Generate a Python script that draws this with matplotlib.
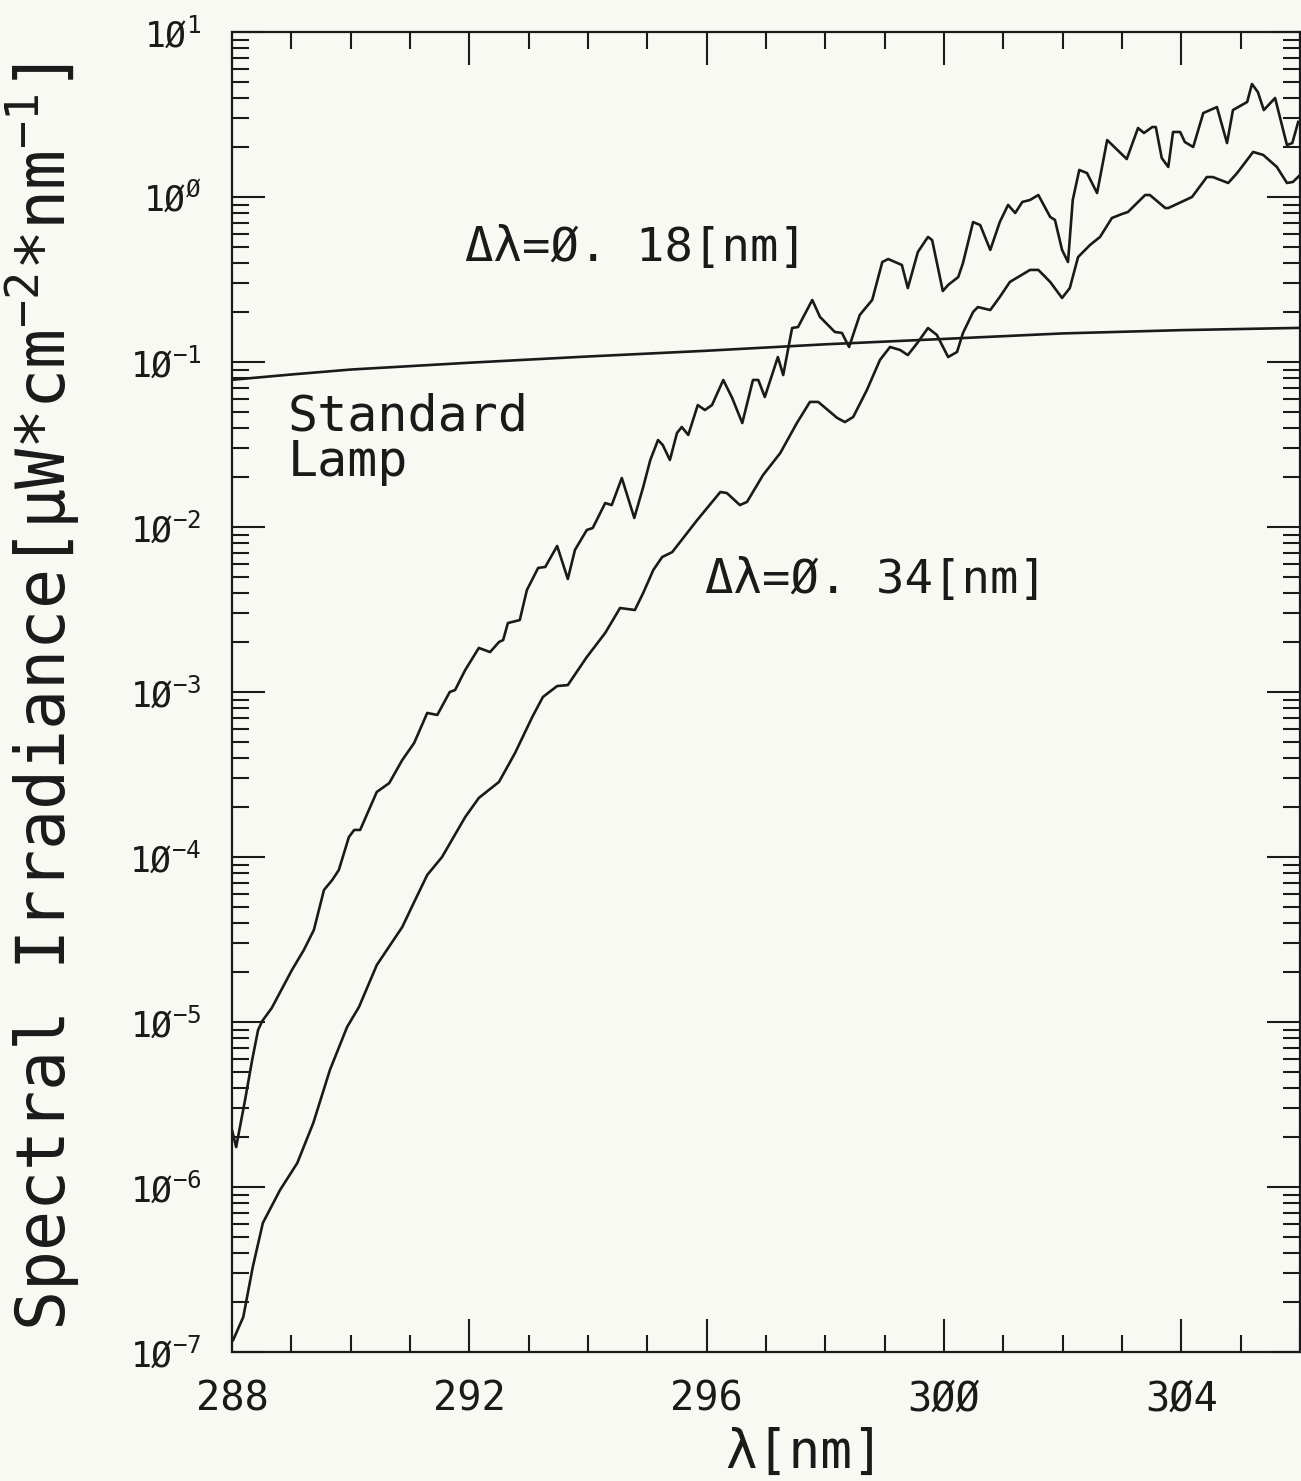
import numpy as np
import matplotlib
matplotlib.use('Agg')
import matplotlib.pyplot as plt
from matplotlib.ticker import MultipleLocator, LogLocator, NullFormatter

# Spectral irradiance (log10 of uW cm^-2 nm^-1)
wl_018 = [288.00, 288.07, 288.22, 288.34, 288.44, 288.51, 288.67, 289.01, 289.21, 289.38,
          289.55, 289.69, 289.80, 289.97, 290.06, 290.16, 290.44, 290.65, 290.87, 291.07,
          291.29, 291.46, 291.67, 291.76, 291.93, 292.16, 292.35, 292.50, 292.57, 292.65,
          292.85, 292.97, 293.16, 293.28, 293.48, 293.66, 293.78, 293.98, 294.08, 294.29,
          294.40, 294.57, 294.78, 294.93, 295.05, 295.18, 295.26, 295.38, 295.50, 295.58,
          295.69, 295.85, 295.97, 296.09, 296.28, 296.43, 296.60, 296.78, 296.87, 296.98,
          297.20, 297.29, 297.44, 297.54, 297.78, 297.91, 298.16, 298.28, 298.40, 298.58,
          298.79, 298.96, 299.06, 299.29, 299.39, 299.56, 299.73, 299.80, 299.98, 300.07,
          300.24, 300.32, 300.49, 300.61, 300.78, 300.94, 301.08, 301.20, 301.32, 301.45,
          301.59, 301.79, 301.87, 301.99, 302.09, 302.17, 302.28, 302.41, 302.58, 302.75,
          303.08, 303.27, 303.37, 303.51, 303.57, 303.67, 303.78, 303.86, 303.98, 304.06,
          304.20, 304.37, 304.60, 304.77, 304.87, 305.11, 305.19, 305.29, 305.39, 305.58,
          305.78, 305.87, 305.97]
log_irr_018 = [-5.655, -5.758, -5.473, -5.230, -5.048, -4.994, -4.915, -4.685, -4.564, -4.442,
               -4.200, -4.139, -4.079, -3.879, -3.836, -3.836, -3.606, -3.552, -3.412, -3.309,
               -3.127, -3.139, -3.000, -2.988, -2.867, -2.733, -2.758, -2.697, -2.685, -2.582,
               -2.564, -2.382, -2.248, -2.242, -2.115, -2.315, -2.139, -2.018, -2.006, -1.855,
               -1.867, -1.703, -1.945, -1.758, -1.594, -1.473, -1.503, -1.594, -1.430, -1.394,
               -1.442, -1.261, -1.291, -1.261, -1.109, -1.218, -1.370, -1.109, -1.109, -1.212,
               -0.970, -1.079, -0.794, -0.788, -0.624, -0.727, -0.818, -0.824, -0.909, -0.715,
               -0.624, -0.394, -0.376, -0.412, -0.552, -0.333, -0.242, -0.261, -0.570, -0.533,
               -0.485, -0.400, -0.152, -0.170, -0.321, -0.152, -0.048, -0.097, -0.030, -0.018,
               0.012, -0.121, -0.139, -0.321, -0.394, -0.018, 0.164, 0.145, 0.024, 0.345,
               0.230, 0.418, 0.388, 0.424, 0.424, 0.236, 0.182, 0.394, 0.394, 0.333,
               0.303, 0.509, 0.545, 0.327, 0.527, 0.576, 0.685, 0.636, 0.527, 0.600,
               0.315, 0.327, 0.455]

wl_034 = [288.02, 288.19, 288.35, 288.52, 288.81, 289.10, 289.37, 289.65, 289.94, 290.14,
          290.44, 290.87, 291.07, 291.29, 291.54, 291.93, 292.16, 292.50, 292.77, 293.06,
          293.24, 293.48, 293.66, 293.98, 294.29, 294.54, 294.79, 294.93, 295.10, 295.25,
          295.42, 295.84, 296.23, 296.34, 296.56, 296.68, 296.95, 297.24, 297.52, 297.74,
          297.88, 298.20, 298.33, 298.47, 298.70, 298.92, 299.09, 299.26, 299.39, 299.55,
          299.73, 299.88, 300.07, 300.22, 300.32, 300.49, 300.57, 300.78, 300.94, 301.11,
          301.45, 301.59, 301.79, 301.99, 302.12, 302.26, 302.46, 302.63, 302.83, 303.00,
          303.10, 303.39, 303.47, 303.73, 303.78, 304.18, 304.43, 304.53, 304.79, 304.94,
          305.21, 305.38, 305.61, 305.78, 305.88, 306.00]
log_irr_034 = [-6.927, -6.788, -6.485, -6.218, -6.018, -5.855, -5.612, -5.291, -5.030, -4.909,
               -4.655, -4.424, -4.273, -4.109, -4.000, -3.758, -3.642, -3.545, -3.370, -3.152,
               -3.030, -2.964, -2.958, -2.788, -2.642, -2.491, -2.503, -2.400, -2.261, -2.182,
               -2.152, -1.958, -1.788, -1.794, -1.867, -1.848, -1.685, -1.552, -1.370, -1.242,
               -1.242, -1.339, -1.364, -1.333, -1.170, -0.988, -0.909, -0.927, -0.958, -0.885,
               -0.794, -0.836, -0.970, -0.939, -0.824, -0.697, -0.667, -0.685, -0.606, -0.515,
               -0.442, -0.442, -0.515, -0.612, -0.552, -0.364, -0.291, -0.242, -0.127, -0.103,
               -0.091, 0.012, 0.012, -0.067, -0.067, 0.000, 0.121, 0.121, 0.085, 0.145,
               0.273, 0.255, 0.182, 0.085, 0.091, 0.133]

wl_lamp = [288, 289, 290, 292, 294, 296, 298, 300, 302, 304, 306]
irr_lamp = [0.078, 0.084, 0.090, 0.099, 0.108, 0.117, 0.128, 0.138, 0.149, 0.156, 0.161]

xtick_vals = [288, 292, 296, 300, 304]
xtick_labels = ['288', '292', '296', '3ØØ', '3Ø4']
ytick_vals = [1e-7, 1e-6, 1e-5, 1e-4, 1e-3, 1e-2, 1e-1, 1e0, 1e1]
ytick_labels = ['1Ø$^{-7}$', '1Ø$^{-6}$', '1Ø$^{-5}$', '1Ø$^{-4}$', '1Ø$^{-3}$',
                '1Ø$^{-2}$', '1Ø$^{-1}$', '1Ø$^{Ø}$', '1Ø$^{1}$']

plt.rcParams['font.family'] = ['DejaVu Sans Mono', 'DejaVu Sans']
plt.rcParams['mathtext.fontset'] = 'custom'
plt.rcParams['mathtext.rm'] = 'DejaVu Sans Mono'
plt.rcParams['mathtext.it'] = 'DejaVu Sans Mono'
plt.rcParams['mathtext.default'] = 'rm'

bg = '#f9f9f4'
ink = '#1a1a1a'
fig = plt.figure(figsize=(13.01, 14.81), dpi=100, facecolor=bg)
ax = fig.add_axes([232 / 1301, 1 - 1352 / 1481, 1068 / 1301, 1320 / 1481])
ax.set_facecolor(bg)

lw = 1.9
ax.plot(wl_018, 10 ** np.array(log_irr_018), color=ink, lw=lw)
ax.plot(wl_034, 10 ** np.array(log_irr_034), color=ink, lw=lw)
ax.plot(wl_lamp, irr_lamp, color=ink, lw=lw)

ax.set_yscale('log')
ax.set_xlim(288, 306)
ax.set_ylim(1e-7, 1e1)

ax.xaxis.set_minor_locator(MultipleLocator(1))
ax.set_xticks(xtick_vals)
ax.set_xticklabels(xtick_labels)
ax.set_yticks(ytick_vals)
ax.set_yticklabels(ytick_labels)
ax.yaxis.set_minor_locator(LogLocator(base=10, subs=np.arange(2, 10)))
ax.yaxis.set_minor_formatter(NullFormatter())

ax.tick_params(which='both', direction='in', top=True, right=True, color=ink, width=1.5)
ax.tick_params(which='major', length=24)
ax.tick_params(which='minor', length=12)
ax.tick_params(axis='x', which='major', labelsize=29, pad=20, labelcolor=ink)
ax.tick_params(axis='y', which='major', labelsize=25, pad=22, labelcolor=ink)
for s in ax.spines.values():
    s.set_linewidth(1.6)
    s.set_color(ink)

ax.text(291.93, 0.49, 'Δλ=Ø. 18[nm]', fontsize=34, ha='left', va='center', color=ink)
ax.text(295.97, 0.00477, 'Δλ=Ø. 34[nm]', fontsize=34, ha='left', va='center', color=ink)
ax.text(288.94, 0.034, 'Standard\nLamp', fontsize=36, ha='left', va='center',
        linespacing=0.95, color=ink)

fig.text(42 / 1301, 1 - 697 / 1481, 'Spectral Irradiance[µW*cm$^{-2}$*nm$^{-1}$]',
         rotation=90, fontsize=48, ha='center', va='center', color=ink)
fig.text(805 / 1301, 1 - 1453 / 1481, 'λ[nm]', fontsize=38, ha='center', va='center', color=ink)

fig.savefig('out.png', dpi=100, facecolor=bg)
